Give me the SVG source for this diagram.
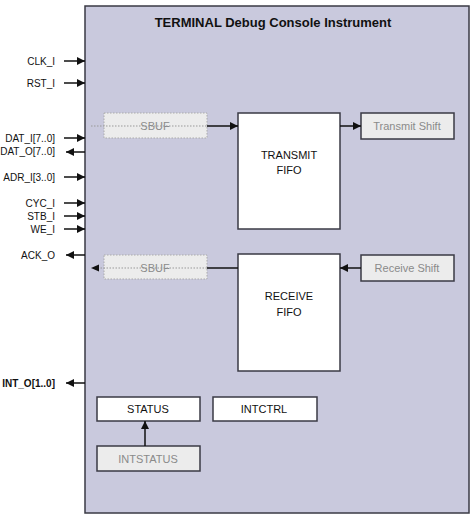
<svg xmlns="http://www.w3.org/2000/svg" width="474" height="519" viewBox="0 0 474 519">
<defs>
<marker id="ah" viewBox="0 0 10 10" refX="10" refY="5" markerWidth="8" markerHeight="8" markerUnits="userSpaceOnUse" orient="auto">
<path d="M0,0 L10,5 L0,10 z" fill="#111"/>
</marker>
</defs>
<style>
text{font-family:"Liberation Sans",Arial,sans-serif;}
.lbl{font-size:10px;fill:#111;text-anchor:end;}
.box{fill:#ffffff;stroke:#3a3a44;stroke-width:1.5;}
.gbox{fill:#ececec;stroke:#3a3a44;stroke-width:1.5;}
.dbox{fill:#ececec;stroke:#aaaaaa;stroke-width:1;stroke-dasharray:1.5,1.5;}
.t{font-size:11px;fill:#111;text-anchor:middle;}
.gt{font-size:11px;fill:#8a8a8a;text-anchor:middle;}
.w{stroke:#111;stroke-width:1.5;fill:none;}
.dl{stroke:#999;stroke-width:1;stroke-dasharray:1.5,1.5;fill:none;}
</style>
<rect width="474" height="519" fill="#ffffff"/>
<g id="instrument">
<rect x="85" y="6" width="384" height="507" fill="#c9c9dd" stroke="#3a3a44" stroke-width="1.5"/>
<text x="273" y="27" font-size="13" font-weight="bold" text-anchor="middle" fill="#111">TERMINAL Debug Console Instrument</text>
</g>
<g id="ports">
<text class="lbl" x="55" y="65">CLK_I</text>
<text class="lbl" x="55" y="87">RST_I</text>
<text class="lbl" x="55" y="142">DAT_I[7..0]</text>
<text class="lbl" x="55" y="155">DAT_O[7..0]</text>
<text class="lbl" x="55" y="181">ADR_I[3..0]</text>
<text class="lbl" x="55" y="207">CYC_I</text>
<text class="lbl" x="55" y="220">STB_I</text>
<text class="lbl" x="55" y="233">WE_I</text>
<text class="lbl" x="55" y="259">ACK_O</text>
<text class="lbl" x="55" y="387" font-weight="bold">INT_O[1..0]</text>
</g>
<g id="sbuf-tx">
<rect class="dbox" x="104" y="113" width="103" height="25"/>
<text class="gt" x="155" y="130">SBUF</text>
</g>
<g id="transmit-fifo">
<rect class="box" x="238" y="113" width="102" height="116"/>
<text class="t" x="289" y="159">TRANSMIT</text>
<text class="t" x="289" y="174">FIFO</text>
</g>
<g id="transmit-shift">
<rect class="gbox" x="361" y="113" width="93" height="26"/>
<text class="gt" x="407" y="130">Transmit Shift</text>
</g>
<g id="sbuf-rx">
<rect class="dbox" x="104" y="255" width="103" height="24"/>
<text class="gt" x="155" y="272">SBUF</text>
</g>
<g id="receive-fifo">
<rect class="box" x="238" y="254" width="102" height="117"/>
<text class="t" x="289" y="300">RECEIVE</text>
<text class="t" x="289" y="316">FIFO</text>
</g>
<g id="receive-shift">
<rect class="gbox" x="361" y="255" width="93" height="26"/>
<text class="gt" x="407" y="272">Receive Shift</text>
</g>
<g id="status">
<rect class="box" x="97" y="397" width="103" height="24"/>
<text class="t" x="148" y="413">STATUS</text>
</g>
<g id="intctrl">
<rect class="box" x="213" y="397" width="104" height="24"/>
<text class="t" x="264" y="413">INTCTRL</text>
</g>
<g id="intstatus">
<rect class="gbox" x="97" y="446" width="103" height="25"/>
<text class="gt" x="148" y="463">INTSTATUS</text>
</g>
<g id="connectors">
<line class="w" x1="64" y1="61" x2="85" y2="61" marker-end="url(#ah)"/>
<line class="w" x1="64" y1="83" x2="85" y2="83" marker-end="url(#ah)"/>
<line class="w" x1="64" y1="138" x2="85" y2="138" marker-end="url(#ah)"/>
<line class="w" x1="85" y1="152" x2="66" y2="152" marker-end="url(#ah)"/>
<line class="w" x1="64" y1="177" x2="85" y2="177" marker-end="url(#ah)"/>
<line class="w" x1="64" y1="203" x2="85" y2="203" marker-end="url(#ah)"/>
<line class="w" x1="64" y1="216" x2="85" y2="216" marker-end="url(#ah)"/>
<line class="w" x1="64" y1="229" x2="85" y2="229" marker-end="url(#ah)"/>
<line class="w" x1="85" y1="255" x2="66" y2="255" marker-end="url(#ah)"/>
<line class="w" x1="85" y1="383" x2="66" y2="383" marker-end="url(#ah)"/>
<line class="dl" x1="91" y1="126" x2="207" y2="126"/>
<line class="w" x1="207" y1="126" x2="238" y2="126" marker-end="url(#ah)"/>
<line class="w" x1="340" y1="126" x2="361" y2="126" marker-end="url(#ah)"/>
<line class="w" x1="238" y1="268" x2="207" y2="268"/>
<line class="dl" x1="207" y1="268" x2="98" y2="268"/>
<path d="M91,268 L99,264.5 L99,271.5 z" fill="#111"/>
<line class="w" x1="361" y1="268" x2="340" y2="268" marker-end="url(#ah)"/>
<line class="w" x1="145" y1="446" x2="145" y2="421" marker-end="url(#ah)"/>
</g>
</svg>
